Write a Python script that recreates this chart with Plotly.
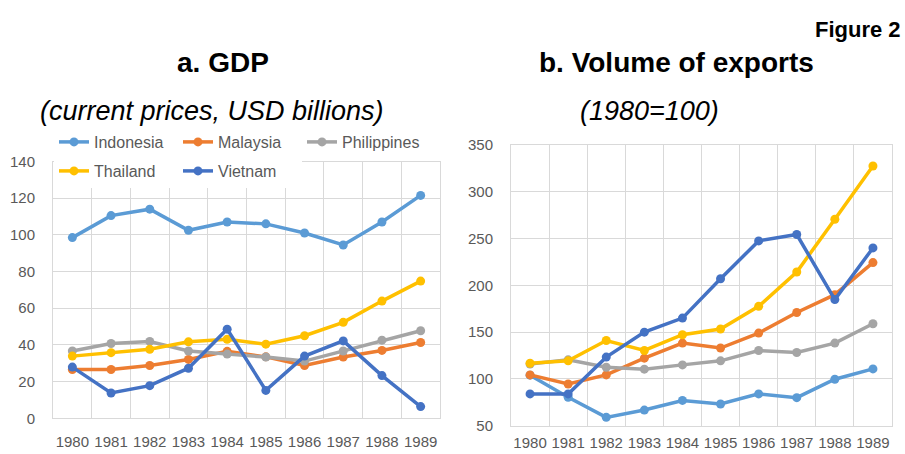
import plotly.graph_objects as go

years = ["1980", "1981", "1982", "1983", "1984", "1985", "1986", "1987", "1988", "1989"]

gdp_indonesia = [98.5, 110.5, 114, 102.5, 107, 106, 101, 94.5, 107, 121.5]
gdp_malaysia = [26.6, 26.6, 28.8, 32.1, 36.5, 33.5, 28.8, 33.4, 37, 41.3]
gdp_philippines = [36.7, 40.8, 41.9, 36.7, 35, 33.4, 31.2, 36.7, 42.6, 47.7]
gdp_thailand = [33.9, 35.8, 37.6, 41.7, 43.1, 40.4, 45, 52.3, 63.9, 74.8]
gdp_vietnam = [27.9, 13.8, 17.8, 27.3, 48.6, 15.2, 33.9, 42.2, 23.3, 6.4]

exp_indonesia = [104, 80.4, 58.9, 66.7, 77, 73.2, 84, 80, 99.7, 110.7]
exp_malaysia = [104.3, 94.6, 104.3, 122.2, 138.3, 133, 149, 171, 190, 224.3]
exp_philippines = [116, 120.4, 112.5, 110.4, 115, 119.3, 130.4, 128.2, 138.3, 159]
exp_thailand = [116.8, 119.3, 141, 130.4, 147.2, 153.3, 177.6, 214.3, 270.7, 327.5]
exp_vietnam = [84, 84, 123.3, 150, 165, 207, 247.5, 254.3, 184.8, 240]

names = ["Indonesia", "Malaysia", "Philippines", "Thailand", "Vietnam"]
colors = ["#5B9BD5", "#ED7D31", "#A5A5A5", "#FFC000", "#4472C4"]
legends = ["legend", "legend", "legend", "legend2", "legend2"]

gdp = [gdp_indonesia, gdp_malaysia, gdp_philippines, gdp_thailand, gdp_vietnam]
exp = [exp_indonesia, exp_malaysia, exp_philippines, exp_thailand, exp_vietnam]

FONT = "Liberation Sans, Arial, sans-serif"
GRID = "#D9D9D9"
TXT = "#595959"

fig = go.Figure()
for n, c, lg, ys in zip(names, colors, legends, gdp):
    fig.add_trace(go.Scatter(x=years, y=ys, name=n, mode="lines+markers",
                             line=dict(color=c, width=3.5), marker=dict(color=c, size=9),
                             xaxis="x", yaxis="y", legend=lg))
for n, c, ys in zip(names, colors, exp):
    fig.add_trace(go.Scatter(x=years, y=ys, name=n, mode="lines+markers",
                             line=dict(color=c, width=3.5), marker=dict(color=c, size=9),
                             xaxis="x2", yaxis="y2", showlegend=False))

axis_common = dict(showgrid=True, gridcolor=GRID, gridwidth=1, showline=True, linecolor=GRID,
                   linewidth=1, mirror=True, zeroline=False, ticks="", automargin=False,
                   tickfont=dict(family=FONT, size=15, color=TXT))

legend_common = dict(orientation="h", x=54/905, xanchor="left", yanchor="middle",
                     bgcolor="white", borderwidth=0, font=dict(family=FONT, size=16, color=TXT),
                     entrywidth=79, entrywidthmode="pixels", itemwidth=30)

fig.update_layout(
    width=905, height=454,
    margin=dict(l=0, r=0, t=0, b=0, autoexpand=False),
    paper_bgcolor="white", plot_bgcolor="white",
    xaxis=dict(domain=[53/905, 440/905], type="category", tickson="boundaries", tickangle=0,
               range=[-0.5, 9.5], ticklabelstandoff=10, anchor="y", **axis_common),
    yaxis=dict(domain=[(454-418.3)/454, (454-161.5)/454], range=[0, 140], dtick=20,
               ticklabelstandoff=14, anchor="x", **axis_common),
    xaxis2=dict(domain=[511/905, 892/905], type="category", tickson="boundaries", tickangle=0,
                range=[-0.5, 9.5], ticklabelstandoff=3, anchor="y2", **axis_common),
    yaxis2=dict(domain=[(454-425.7)/454, (454-145)/454], range=[50, 350], dtick=50,
                ticklabelstandoff=14, anchor="x2", **axis_common),
    legend=dict(y=(454-142)/454, **legend_common),
    legend2=dict(y=(454-171)/454, **legend_common),
    showlegend=True,
)

annos = [
    dict(text="<b>Figure 2</b>", x=903/905, y=(454-30)/454, xanchor="right", yanchor="middle",
         font=dict(family=FONT, size=22, color="#000000")),
    dict(text="<b>a. GDP</b>", x=223/905, y=(454-63)/454, xanchor="center", yanchor="middle",
         font=dict(family=FONT, size=28, color="#000000")),
    dict(text="<b>b. Volume of exports</b>", x=676/905, y=(454-63)/454, xanchor="center", yanchor="middle",
         font=dict(family=FONT, size=28, color="#000000")),
    dict(text="<i>(current prices, USD billions)</i>", x=212/905, y=(454-111)/454, xanchor="center",
         yanchor="middle", font=dict(family=FONT, size=27, color="#000000")),
    dict(text="<i>(1980=100)</i>", x=649/905, y=(454-111)/454, xanchor="center",
         yanchor="middle", font=dict(family=FONT, size=27, color="#000000")),
]
for a in annos:
    fig.add_annotation(xref="paper", yref="paper", showarrow=False, **a)

fig.write_html("out.html", config={"displayModeBar": False},
               post_script="document.body.style.margin='0';document.body.style.padding='0';")
